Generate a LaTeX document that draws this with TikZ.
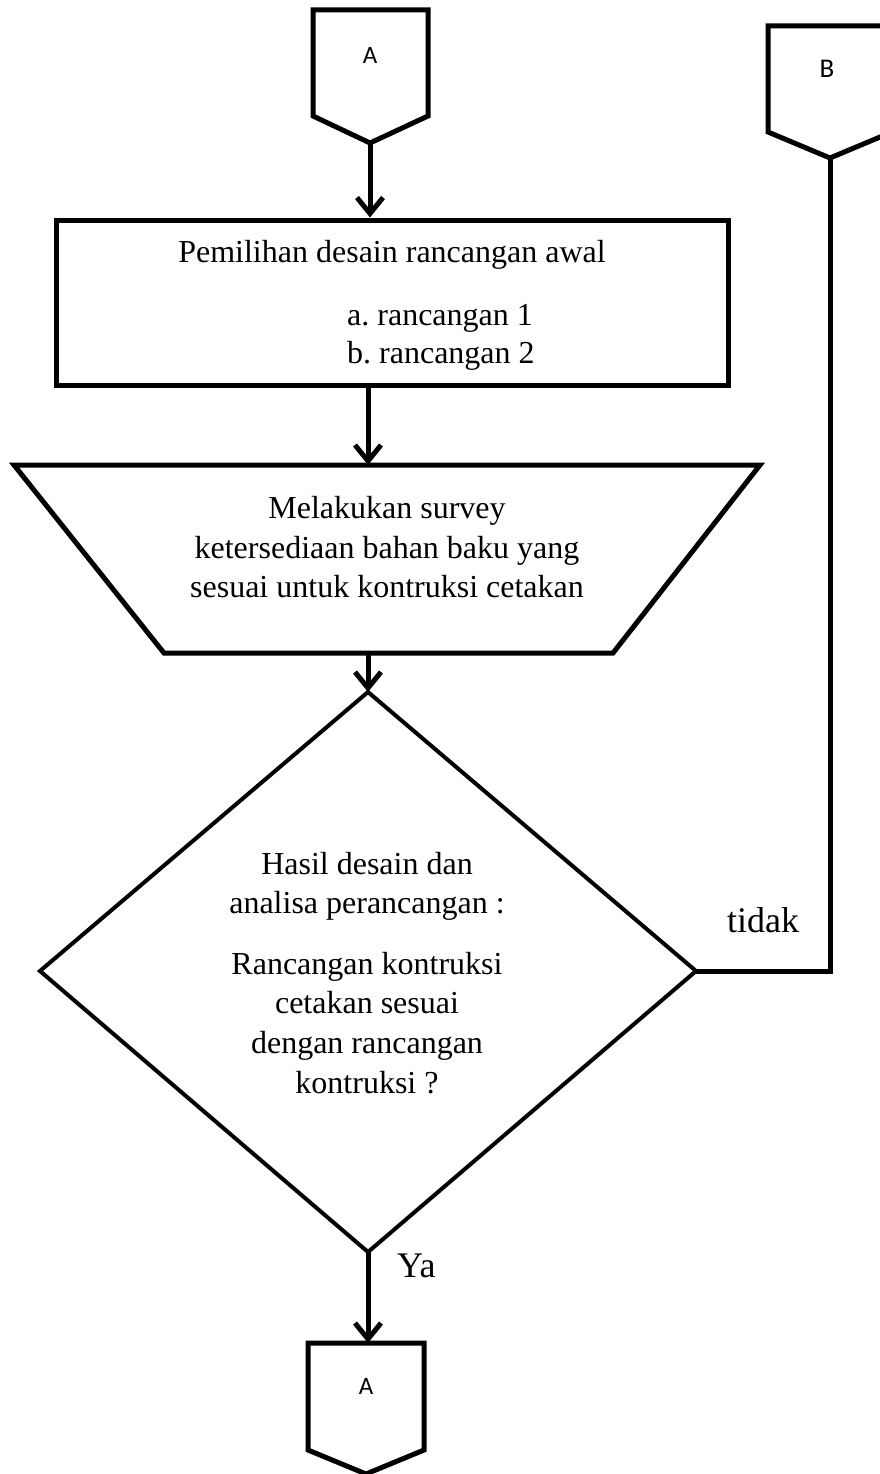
\documentclass[tikz,border=0pt]{standalone}
\usepackage{fontspec}
\setmainfont{Liberation Serif}
\newfontfamily\labfont{Carlito}
\usetikzlibrary{arrows.meta}
\begin{document}
\frenchspacing
\begin{tikzpicture}[x=1pt,y=-1pt,
  shapeline/.style={line width=5pt, line join=miter},
  dialine/.style={line width=4pt, line join=miter},
  arr/.style={line width=5pt, -{Straight Barb[length=16pt,width=26pt]}},
  conn/.style={line width=5pt, line join=miter},
  txt/.style={font=\fontsize{32}{40}\selectfont, inner sep=0pt},
  bigtxt/.style={font=\fontsize{36}{42}\selectfont, inner sep=0pt},
  lab/.style={font=\labfont\fontsize{25}{29}\selectfont, inner sep=0pt}]
\useasboundingbox (0,0) rectangle (880,1474);
\fill[white] (0,0) rectangle (880,1474);
\begin{scope}
\clip (0,0) rectangle (880,1474);
% top off-page connector A
\draw[shapeline] (313,10) -- (428,10) -- (428,116) -- (370,143) -- (313,116) -- cycle;
\coordinate (Atip) at (370,143);
\node[lab] (Alab) at (370,55) {A};
% off-page connector B
\draw[shapeline] (768,26) -- (892,26) -- (892,132) -- (830,158) -- (768,132) -- cycle;
\coordinate (Btip) at (830,158);
\node[lab, font=\labfont\fontsize{27}{31}\selectfont] (Blab) at (827,69) {B};
% process box
\node[draw, line width=5pt, minimum width=672pt, minimum height=165pt, inner sep=0pt] (box) at (392,302.5) {};
\node[txt, anchor=base] (t1) at (392,262) {Pemilihan desain rancangan awal};
\node[txt, anchor=base west] (t2) at (347,325) {a. rancangan 1};
\node[txt, anchor=base west] (t3) at (347,363) {b. rancangan 2};
% manual operation trapezoid
\draw[shapeline] (14,465) -- (760,465) -- (613,653) -- (164,653) -- cycle;
\coordinate (trapT) at (368,465);
\coordinate (trapB) at (368,653);
\node[txt, anchor=base] (s1) at (387,518) {Melakukan survey};
\node[txt, anchor=base] (s2) at (387,558) {ketersediaan bahan baku yang};
\node[txt, anchor=base] (s3) at (387,597) {sesuai untuk kontruksi cetakan};
% decision diamond
\coordinate (dT) at (368,692);
\coordinate (dR) at (696,971);
\coordinate (dB) at (368,1252);
\coordinate (dL) at (40,971);
\draw[dialine] (dT) -- (dR) -- (dB) -- (dL) -- cycle;
\node[txt, anchor=base] (d1) at (367,874) {Hasil desain dan};
\node[txt, anchor=base] (d2) at (367,913) {analisa perancangan :};
\node[txt, anchor=base] (d3) at (367,974) {Rancangan kontruksi};
\node[txt, anchor=base] (d4) at (367,1013) {cetakan sesuai};
\node[txt, anchor=base] (d5) at (367,1053) {dengan rancangan};
\node[txt, anchor=base] (d6) at (367,1093) {kontruksi ?};
% bottom off-page connector A
\draw[shapeline] (308,1343) -- (424,1343) -- (424,1450) -- (366,1474) -- (308,1450) -- cycle;
\coordinate (A2top) at (368,1343);
\node[lab] (A2lab) at (366,1386) {A};
% connectors
\draw[arr] (Atip) -- (Atip |- box.north);
\draw[arr] (box.south -| trapT) -- (trapT);
\draw[arr] (trapB) -- (dT);
\draw[arr] (dB) -- (A2top);
\coordinate (Bcorner) at (830,971);
\draw[conn] (Btip) -- (Bcorner) -- (dR);
\node[bigtxt, anchor=base west] (tidak) at (727,932) {tidak};
\node[bigtxt, anchor=base west] (ya) at (397,1277) {Ya};
\end{scope}
\end{tikzpicture}
\end{document}
